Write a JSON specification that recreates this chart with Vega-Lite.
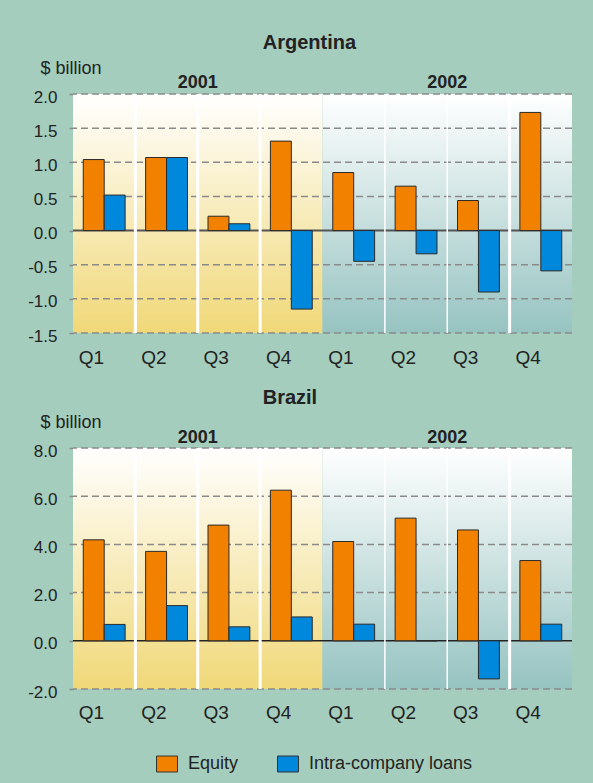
{
  "$schema": "https://vega.github.io/schema/vega-lite/v6.json",
  "background": "#a4cdbd",
  "padding": {"left": 27, "right": 22, "top": 33, "bottom": 10},
  "config": {
    "font": "Liberation Sans",
    "view": {"stroke": null},
    "axis": {"labelFont": "Liberation Sans", "titleFont": "Liberation Sans", "labelColor": "#222", "titleColor": "#222", "labelOverlap": false, "labelSeparation": 0},
    "legend": {"labelFont": "Liberation Sans"},
    "title": {"font": "Liberation Sans", "fontSize": 20, "fontWeight": "bold", "color": "#222", "anchor": "start"}
  },
  "datasets": {
    "fdi": [
      {"country": "Argentina", "q": "2001 Q1", "series": "Equity", "value": 1.04},
      {"country": "Argentina", "q": "2001 Q1", "series": "Intra-company loans", "value": 0.52},
      {"country": "Argentina", "q": "2001 Q2", "series": "Equity", "value": 1.07},
      {"country": "Argentina", "q": "2001 Q2", "series": "Intra-company loans", "value": 1.07},
      {"country": "Argentina", "q": "2001 Q3", "series": "Equity", "value": 0.21},
      {"country": "Argentina", "q": "2001 Q3", "series": "Intra-company loans", "value": 0.10},
      {"country": "Argentina", "q": "2001 Q4", "series": "Equity", "value": 1.31},
      {"country": "Argentina", "q": "2001 Q4", "series": "Intra-company loans", "value": -1.15},
      {"country": "Argentina", "q": "2002 Q1", "series": "Equity", "value": 0.85},
      {"country": "Argentina", "q": "2002 Q1", "series": "Intra-company loans", "value": -0.45},
      {"country": "Argentina", "q": "2002 Q2", "series": "Equity", "value": 0.65},
      {"country": "Argentina", "q": "2002 Q2", "series": "Intra-company loans", "value": -0.34},
      {"country": "Argentina", "q": "2002 Q3", "series": "Equity", "value": 0.44},
      {"country": "Argentina", "q": "2002 Q3", "series": "Intra-company loans", "value": -0.90},
      {"country": "Argentina", "q": "2002 Q4", "series": "Equity", "value": 1.73},
      {"country": "Argentina", "q": "2002 Q4", "series": "Intra-company loans", "value": -0.59},
      {"country": "Brazil", "q": "2001 Q1", "series": "Equity", "value": 4.19},
      {"country": "Brazil", "q": "2001 Q1", "series": "Intra-company loans", "value": 0.68},
      {"country": "Brazil", "q": "2001 Q2", "series": "Equity", "value": 3.71},
      {"country": "Brazil", "q": "2001 Q2", "series": "Intra-company loans", "value": 1.46},
      {"country": "Brazil", "q": "2001 Q3", "series": "Equity", "value": 4.80},
      {"country": "Brazil", "q": "2001 Q3", "series": "Intra-company loans", "value": 0.58},
      {"country": "Brazil", "q": "2001 Q4", "series": "Equity", "value": 6.25},
      {"country": "Brazil", "q": "2001 Q4", "series": "Intra-company loans", "value": 0.99},
      {"country": "Brazil", "q": "2002 Q1", "series": "Equity", "value": 4.12},
      {"country": "Brazil", "q": "2002 Q1", "series": "Intra-company loans", "value": 0.69},
      {"country": "Brazil", "q": "2002 Q2", "series": "Equity", "value": 5.09},
      {"country": "Brazil", "q": "2002 Q2", "series": "Intra-company loans", "value": 0},
      {"country": "Brazil", "q": "2002 Q3", "series": "Equity", "value": 4.60},
      {"country": "Brazil", "q": "2002 Q3", "series": "Intra-company loans", "value": -1.58},
      {"country": "Brazil", "q": "2002 Q4", "series": "Equity", "value": 3.33},
      {"country": "Brazil", "q": "2002 Q4", "series": "Intra-company loans", "value": 0.69}
    ]
  },
  "spacing": 21,
  "vconcat": [
    {
      "width": 499,
      "height": 239,
      "title": {"text": "Argentina", "dx": 235, "offset": 6},
      "resolve": {"scale": {"x": "independent"}, "axis": {"x": "independent"}},
      "layer": [
        {
          "data": {"values": [{"year": "2001"}, {"year": "2002"}]},
          "layer": [
            {
              "transform": [{"filter": "datum.year == '2001'"}],
              "mark": {"type": "rect", "fill": {"gradient": "linear", "x1": 0, "y1": 0, "x2": 0, "y2": 1, "stops": [{"offset": 0, "color": "#ffffff"}, {"offset": 1, "color": "#f0d878"}]}},
              "encoding": {
                "x": {"field": "year", "type": "nominal", "scale": {"domain": ["2001", "2002"], "paddingInner": 0, "paddingOuter": 0},
                  "axis": {"orient": "top", "title": null, "domain": false, "ticks": false, "tickSize": 0, "labelPadding": 7, "labelBaseline": "alphabetic", "labelFontSize": 18, "labelFontWeight": "bold", "labelAngle": 0}},
                "y": {"datum": 2, "type": "quantitative", "axis": {"tickCount": 10}},
                "y2": {"datum": -1.5}
              }
            },
            {
              "transform": [{"filter": "datum.year == '2002'"}],
              "mark": {"type": "rect", "fill": {"gradient": "linear", "x1": 0, "y1": 0, "x2": 0, "y2": 1, "stops": [{"offset": 0, "color": "#ffffff"}, {"offset": 1, "color": "#96c3c1"}]}},
              "encoding": {
                "x": {"field": "year", "type": "nominal", "scale": {"domain": ["2001", "2002"], "paddingInner": 0, "paddingOuter": 0}},
                "y": {"datum": 2, "type": "quantitative", "axis": {"tickCount": 10}},
                "y2": {"datum": -1.5}
              }
            }
          ]
        },
        {
          "layer": [
            {
              "data": {"values": [{"v": -1.5}, {"v": -1.0}, {"v": -0.5}, {"v": 0.5}, {"v": 1.0}, {"v": 1.5}, {"v": 2.0}]},
              "mark": {"type": "rule", "color": "#8a8a8a", "strokeDash": [7, 4], "strokeWidth": 1.5},
              "encoding": {"y": {"field": "v", "type": "quantitative", "axis": {"tickCount": 10}}}
            },
            {
              "data": {"values": [{"v": 0}]},
              "mark": {"type": "rule", "color": "#555555", "strokeWidth": 2},
              "encoding": {"y": {"field": "v", "type": "quantitative", "axis": {"tickCount": 10}}}
            },
            {
              "data": {"name": "fdi"},
              "transform": [{"filter": "datum.country == 'Argentina' && datum.series == 'Equity' && indexof(['2001 Q2','2001 Q3','2001 Q4','2002 Q4'], datum.q) >= 0"}],
              "mark": {"type": "rule", "color": "#ffffff", "strokeWidth": 3},
              "encoding": {"x": {"field": "q", "type": "nominal", "bandPosition": 0, "scale": {"domain": ["2001 Q1", "2001 Q2", "2001 Q3", "2001 Q4", "2002 Q1", "2002 Q2", "2002 Q3", "2002 Q4"], "paddingInner": 0, "paddingOuter": 0}}}
            },
            {
              "data": {"name": "fdi"},
              "transform": [{"filter": "datum.country == 'Argentina' && datum.series == 'Equity' && indexof(['2002 Q2','2002 Q3'], datum.q) >= 0"}],
              "mark": {"type": "rule", "color": "#ffffff", "strokeWidth": 1.5},
              "encoding": {"x": {"field": "q", "type": "nominal", "bandPosition": 0, "scale": {"domain": ["2001 Q1", "2001 Q2", "2001 Q3", "2001 Q4", "2002 Q1", "2002 Q2", "2002 Q3", "2002 Q4"], "paddingInner": 0, "paddingOuter": 0}}}
            },
            {
              "data": {"name": "fdi"},
              "transform": [{"filter": "datum.country == 'Argentina'"}],
              "mark": {"type": "bar", "stroke": "#2a2a2a", "strokeWidth": 1},
              "encoding": {
                "x": {"field": "q", "type": "nominal", "scale": {"domain": ["2001 Q1", "2001 Q2", "2001 Q3", "2001 Q4", "2002 Q1", "2002 Q2", "2002 Q3", "2002 Q4"], "paddingInner": 0, "paddingOuter": 0},
                  "axis": {"title": null, "domain": false, "ticks": false, "tickSize": 0, "labelPadding": 30, "labelBaseline": "alphabetic", "labelFontSize": 19, "labelAngle": 0, "labelExpr": "slice(datum.value, 5)"}},
                "xOffset": {"field": "series", "type": "nominal", "sort": ["Equity", "Intra-company loans"], "scale": {"paddingInner": 0, "paddingOuter": 0.49}},
                "y": {"field": "value", "type": "quantitative", "scale": {"domain": [-1.5, 2], "nice": false, "zero": false},
                  "axis": {"title": "$ billion", "titleAngle": 0, "titleAlign": "left", "titleBaseline": "alphabetic", "titleX": -33, "titleY": -21, "titleFontSize": 18, "titleFontWeight": "normal",
                    "values": [-1.5, -1, -0.5, 0, 0.5, 1, 1.5, 2], "tickCount": 10, "labelExpr": "(datum.value < 0 ? '-' : '') + format(abs(datum.value), '.1f')", "labelOverlap": false, "labelFlush": false, "grid": false, "domain": false, "ticks": true, "tickSize": 4, "tickColor": "#8a8a8a", "tickWidth": 1.5, "labelPadding": 12, "labelFontSize": 17, "labelOffset": 3}},
                "color": {"field": "series", "type": "nominal", "scale": {"domain": ["Equity", "Intra-company loans"], "range": ["#f28100", "#0088dd"]},
                  "legend": {"orient": "none", "legendX": 83, "legendY": 659, "direction": "horizontal", "title": null, "symbolType": "M-1,-0.76H1V0.76H-1Z", "symbolSize": 441, "symbolStrokeColor": "#333333", "symbolStrokeWidth": 1, "symbolOpacity": 1, "labelFontSize": 18, "labelColor": "#222", "labelOffset": 10, "labelLimit": 0, "columnPadding": 36}}
              }
            }
          ]
        }
      ]
    },
    {
      "width": 499,
      "height": 241,
      "title": {"text": "Brazil", "dx": 235, "offset": 5},
      "resolve": {"scale": {"x": "independent"}, "axis": {"x": "independent"}},
      "layer": [
        {
          "data": {"values": [{"year": "2001"}, {"year": "2002"}]},
          "layer": [
            {
              "transform": [{"filter": "datum.year == '2001'"}],
              "mark": {"type": "rect", "fill": {"gradient": "linear", "x1": 0, "y1": 0, "x2": 0, "y2": 1, "stops": [{"offset": 0, "color": "#ffffff"}, {"offset": 1, "color": "#f0d878"}]}},
              "encoding": {
                "x": {"field": "year", "type": "nominal", "scale": {"domain": ["2001", "2002"], "paddingInner": 0, "paddingOuter": 0},
                  "axis": {"orient": "top", "title": null, "domain": false, "ticks": false, "tickSize": 0, "labelPadding": 6, "labelBaseline": "alphabetic", "labelFontSize": 18, "labelFontWeight": "bold", "labelAngle": 0}},
                "y": {"datum": 8, "type": "quantitative"},
                "y2": {"datum": -2}
              }
            },
            {
              "transform": [{"filter": "datum.year == '2002'"}],
              "mark": {"type": "rect", "fill": {"gradient": "linear", "x1": 0, "y1": 0, "x2": 0, "y2": 1, "stops": [{"offset": 0, "color": "#ffffff"}, {"offset": 1, "color": "#96c3c1"}]}},
              "encoding": {
                "x": {"field": "year", "type": "nominal", "scale": {"domain": ["2001", "2002"], "paddingInner": 0, "paddingOuter": 0}},
                "y": {"datum": 8, "type": "quantitative"},
                "y2": {"datum": -2}
              }
            }
          ]
        },
        {
          "layer": [
            {
              "data": {"values": [{"v": -2}, {"v": 2}, {"v": 4}, {"v": 6}, {"v": 8}]},
              "mark": {"type": "rule", "color": "#8a8a8a", "strokeDash": [7, 4], "strokeWidth": 1.5},
              "encoding": {"y": {"field": "v", "type": "quantitative"}}
            },
            {
              "data": {"values": [{"v": 0}]},
              "mark": {"type": "rule", "color": "#222222", "strokeWidth": 1.5},
              "encoding": {"y": {"field": "v", "type": "quantitative"}}
            },
            {
              "data": {"name": "fdi"},
              "transform": [{"filter": "datum.country == 'Brazil' && datum.series == 'Equity' && indexof(['2001 Q2','2001 Q3','2001 Q4','2002 Q4'], datum.q) >= 0"}],
              "mark": {"type": "rule", "color": "#ffffff", "strokeWidth": 3},
              "encoding": {"x": {"field": "q", "type": "nominal", "bandPosition": 0, "scale": {"domain": ["2001 Q1", "2001 Q2", "2001 Q3", "2001 Q4", "2002 Q1", "2002 Q2", "2002 Q3", "2002 Q4"], "paddingInner": 0, "paddingOuter": 0}}}
            },
            {
              "data": {"name": "fdi"},
              "transform": [{"filter": "datum.country == 'Brazil' && datum.series == 'Equity' && indexof(['2002 Q2','2002 Q3'], datum.q) >= 0"}],
              "mark": {"type": "rule", "color": "#ffffff", "strokeWidth": 1.5},
              "encoding": {"x": {"field": "q", "type": "nominal", "bandPosition": 0, "scale": {"domain": ["2001 Q1", "2001 Q2", "2001 Q3", "2001 Q4", "2002 Q1", "2002 Q2", "2002 Q3", "2002 Q4"], "paddingInner": 0, "paddingOuter": 0}}}
            },
            {
              "data": {"name": "fdi"},
              "transform": [{"filter": "datum.country == 'Brazil'"}],
              "mark": {"type": "bar", "stroke": "#2a2a2a", "strokeWidth": 1},
              "encoding": {
                "x": {"field": "q", "type": "nominal", "scale": {"domain": ["2001 Q1", "2001 Q2", "2001 Q3", "2001 Q4", "2002 Q1", "2002 Q2", "2002 Q3", "2002 Q4"], "paddingInner": 0, "paddingOuter": 0},
                  "axis": {"title": null, "domain": false, "ticks": false, "tickSize": 0, "labelPadding": 29, "labelBaseline": "alphabetic", "labelFontSize": 19, "labelAngle": 0, "labelExpr": "slice(datum.value, 5)"}},
                "xOffset": {"field": "series", "type": "nominal", "sort": ["Equity", "Intra-company loans"], "scale": {"paddingInner": 0, "paddingOuter": 0.49}},
                "y": {"field": "value", "type": "quantitative", "scale": {"domain": [-2, 8], "nice": false, "zero": false},
                  "axis": {"title": "$ billion", "titleAngle": 0, "titleAlign": "left", "titleBaseline": "alphabetic", "titleX": -33, "titleY": -21, "titleFontSize": 18, "titleFontWeight": "normal",
                    "values": [-2, 0, 2, 4, 6, 8], "tickCount": 10, "labelExpr": "(datum.value < 0 ? '-' : '') + format(abs(datum.value), '.1f')", "labelOverlap": false, "grid": false, "domain": false, "ticks": true, "tickSize": 4, "tickColor": "#8a8a8a", "tickWidth": 1.5, "labelPadding": 12, "labelFontSize": 17, "labelOffset": 3}},
                "color": {"field": "series", "type": "nominal", "scale": {"domain": ["Equity", "Intra-company loans"], "range": ["#f28100", "#0088dd"]},
                  "legend": {"orient": "none", "legendX": 83, "legendY": 659, "direction": "horizontal", "title": null, "symbolType": "M-1,-0.76H1V0.76H-1Z", "symbolSize": 441, "symbolStrokeColor": "#333333", "symbolStrokeWidth": 1, "symbolOpacity": 1, "labelFontSize": 18, "labelColor": "#222", "labelOffset": 10, "labelLimit": 0, "columnPadding": 36}}
              }
            }
          ]
        }
      ]
    }
  ]
}
